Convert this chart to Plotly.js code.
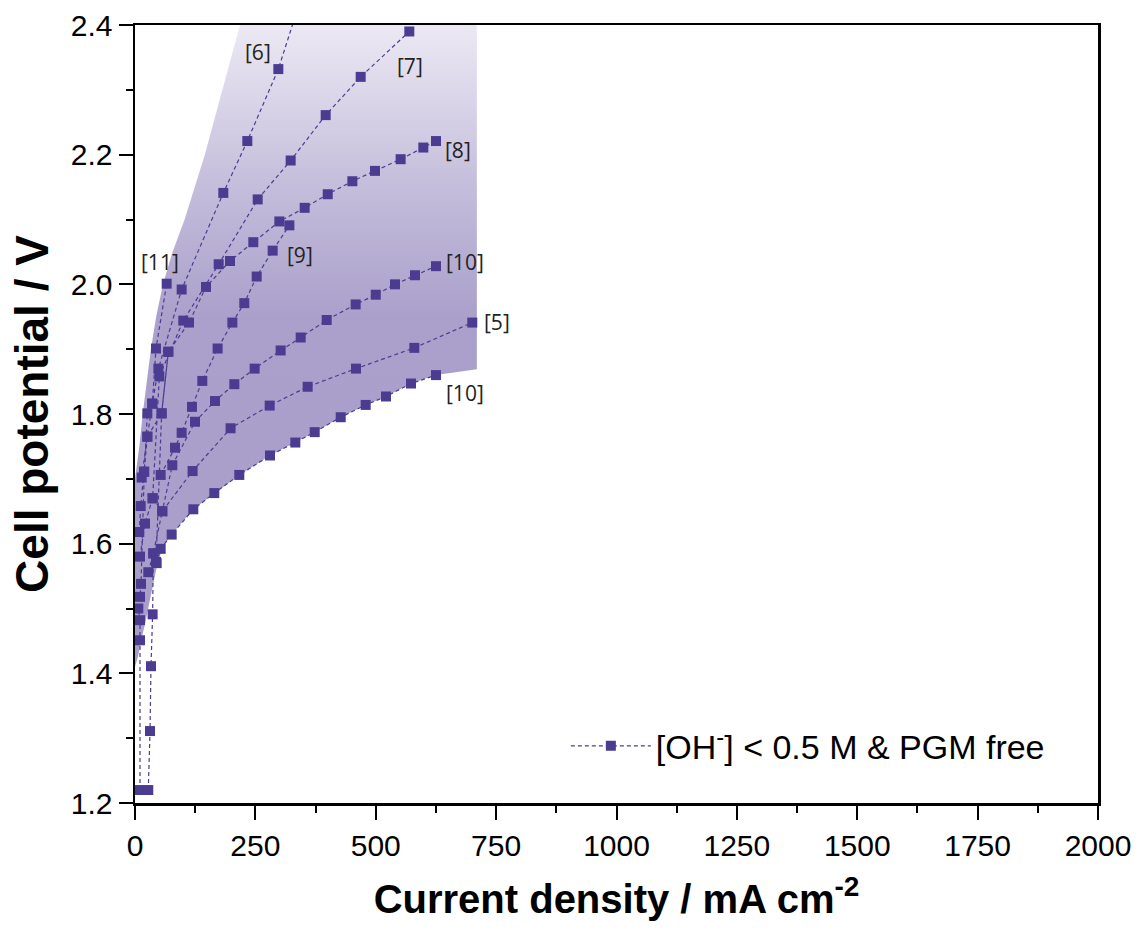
<!DOCTYPE html>
<html><head><meta charset="utf-8">
<script src="https://cdn.plot.ly/plotly-3.0.1.min.js"></script>
<style>body{margin:0;background:#fff}</style>
</head><body><div id="chart" style="width:1139px;height:932px"></div>
<script>
// Shaded envelope (outline of the reported data range)
const envelope_x = [218, 710, 710, 625, 573, 521, 479, 427, 373, 333, 280, 217, 165, 121, 76, 58, 47, 38, 30, 22, 14, 6, 0, 0, 4, 9, 16, 24, 33, 44, 58, 78, 103, 145, 182, 218];
const envelope_y = [2.4, 2.4, 1.869, 1.86, 1.847, 1.827, 1.814, 1.795, 1.772, 1.756, 1.736, 1.706, 1.678, 1.653, 1.614, 1.595, 1.57, 1.54, 1.51, 1.48, 1.455, 1.425, 1.41, 1.70, 1.72, 1.75, 1.80, 1.85, 1.90, 1.95, 2.0, 2.05, 2.1, 2.2, 2.3, 2.4];

// Polarisation curves, [OH-] < 0.5 M & PGM free
const ref6_x = [8.9, 11.8, 18.7, 25.6, 35.9, 48.6, 96.9, 183.4, 233.3, 297.7, 370];
const ref6_y = [1.618, 1.658, 1.711, 1.765, 1.816, 1.870, 1.992, 2.141, 2.221, 2.332, 2.50];
const ref7_x = [10.4, 20.8, 36.6, 50.6, 100.3, 173.8, 254.8, 323.3, 396.0, 468.7, 569.7];
const ref7_y = [1.580, 1.631, 1.670, 1.858, 1.944, 2.031, 2.131, 2.191, 2.261, 2.320, 2.390];
const ref8_x = [13.9, 25.6, 55.3, 69.2, 112.1, 147.5, 197.3, 245.7, 299.8, 352.4, 400.3, 451.4, 498.4, 551.7, 598.8, 625.1];
const ref8_y = [1.702, 1.765, 1.801, 1.896, 1.941, 1.996, 2.036, 2.065, 2.097, 2.118, 2.139, 2.159, 2.175, 2.193, 2.211, 2.221];
const ref9_x = [53.3, 83.1, 96.9, 118.4, 139.8, 171.6, 202.2, 227.0, 252.7, 285.9, 320.6];
const ref9_y = [1.706, 1.748, 1.771, 1.811, 1.851, 1.901, 1.941, 1.971, 2.012, 2.052, 2.091];
const ref10a_x = [36.6, 56.7, 77.5, 124.6, 166.1, 206.3, 248.5, 302.5, 344.1, 398.1, 458.3, 500.0, 540.0, 581.5, 625.1];
const ref10a_y = [1.670, 1.650, 1.721, 1.788, 1.820, 1.846, 1.870, 1.898, 1.918, 1.945, 1.969, 1.984, 2.000, 2.014, 2.028];
const ref5_x = [27.6, 38.0, 56.7, 119.6, 198.5, 279.7, 358.6, 459.0, 580.1, 700.5];
const ref5_y = [1.556, 1.585, 1.650, 1.712, 1.778, 1.813, 1.842, 1.870, 1.902, 1.941];
const ref10b_x = [45.0, 53.3, 76.2, 121.1, 164.7, 216.6, 280.4, 333.0, 373.2, 427.2, 479.1, 521.3, 573.2, 625.1];
const ref10b_y = [1.570, 1.592, 1.614, 1.653, 1.678, 1.706, 1.736, 1.756, 1.772, 1.795, 1.814, 1.827, 1.847, 1.860];
const ref11_x = [10.4, 10.4, 10.4, 6.9, 10.4, 12.5, 19.3, 25.6, 35.9, 43.6, 65.8];
const ref11_y = [1.220, 1.451, 1.482, 1.500, 1.518, 1.538, 1.711, 1.801, 1.816, 1.901, 2.001];
const refB_x = [27.6, 31.2, 33.2, 36.6, 38.0, 43.6, 55.3, 69.2];
const refB_y = [1.220, 1.311, 1.411, 1.491, 1.585, 1.572, 1.801, 1.896];

const series = [
  [ref6_x, ref6_y], [ref7_x, ref7_y], [ref8_x, ref8_y], [ref9_x, ref9_y],
  [ref10a_x, ref10a_y], [ref5_x, ref5_y], [ref10b_x, ref10b_y], [ref11_x, ref11_y], [refB_x, refB_y]
];

const label_text = ['[6]', '[7]', '[8]', '[9]', '[10]', '[5]', '[10]', '[11]'];
const label_x = [256, 571, 671, 343, 685, 751, 685, 52];
const label_y = [2.359, 2.336, 2.207, 2.045, 2.035, 1.942, 1.832, 2.035];

const legend_name = '[OH<sup>-</sup>] &lt; 0.5 M &amp; PGM free';

const markColor = '#4B3C92';
const traces = [{
  x: envelope_x, y: envelope_y, type: 'scatter', mode: 'lines', fill: 'toself',
  line: {width: 0}, fillcolor: '#a99fca',
  fillgradient: {type: 'vertical', start: 1.4, stop: 2.4,
    colorscale: [[0, '#a89ec9'], [0.55, '#aaa0cb'], [0.75, '#c4bddb'], [1, '#ece9f4']]},
  hoverinfo: 'skip', showlegend: false
}];
series.forEach((s, i) => {
  traces.push({
    x: s[0], y: s[1], type: 'scatter', mode: 'lines+markers',
    line: {color: markColor, width: 1.2, dash: '4px,3px'},
    marker: {symbol: 'square', size: 10, color: markColor},
    name: legend_name, legendgroup: 'g', showlegend: i === 0
  });
});

const annotations = label_text.map((t, i) => ({
  x: label_x[i], y: label_y[i], xref: 'x', yref: 'y', text: t, showarrow: false,
  font: {family: 'Open Sans, Noto Sans, sans-serif', size: 21, color: '#222'}
}));

const axisCommon = {
  showline: true, linewidth: 2.5, linecolor: '#000', mirror: true,
  ticks: 'outside', ticklen: 14, tickwidth: 2, tickcolor: '#000',
  showgrid: false, zeroline: false,
  tickfont: {family: 'Arial, Liberation Sans, sans-serif', size: 30, color: '#000'}
};

const layout = {
  width: 1139, height: 932,
  margin: {l: 135, r: 41, t: 25, b: 129},
  paper_bgcolor: '#fff', plot_bgcolor: '#fff',
  showlegend: true,
  legend: {x: 0.95, xanchor: 'right', y: 0.073, yanchor: 'middle', bgcolor: 'rgba(0,0,0,0)',
    itemwidth: 80,
    font: {family: 'Arial, Liberation Sans, sans-serif', size: 34, color: '#000'}},
  xaxis: Object.assign({}, axisCommon, {
    range: [0, 2000], dtick: 250, tick0: 0,
    minor: {dtick: 125, ticks: 'outside', ticklen: 7, tickwidth: 2, tickcolor: '#000'},
    title: {text: 'Current density / mA cm<sup>-2</sup>', standoff: 25,
      font: {family: 'Arial, Liberation Sans, sans-serif', size: 40, color: '#000', weight: 'bold'}}
  }),
  yaxis: Object.assign({}, axisCommon, {
    range: [1.2, 2.4], dtick: 0.2, tick0: 1.2, tickformat: '.1f',
    minor: {dtick: 0.1, ticks: 'outside', ticklen: 7, tickwidth: 2, tickcolor: '#000'},
    title: {text: 'Cell potential / V', standoff: 8,
      font: {family: 'Arial, Liberation Sans, sans-serif', size: 46, color: '#000', weight: 'bold'}}
  }),
  annotations: annotations
};

Plotly.newPlot('chart', traces, layout, {displayModeBar: false, staticPlot: true});
</script></body></html>
